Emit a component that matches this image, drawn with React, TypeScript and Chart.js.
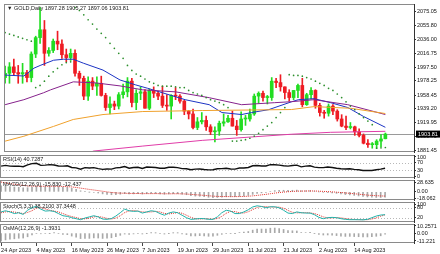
import React, { useEffect, useRef } from "react";
import { Chart, registerables } from "chart.js";

Chart.register(...registerables);

const FONT = "'Liberation Sans', 'DejaVu Sans', Arial, sans-serif";

const DATE_LABELS = ["24 Apr 2023", "4 May 2023", "16 May 2023", "26 May 2023", "7 Jun 2023", "19 Jun 2023", "29 Jun 2023", "11 Jul 2023", "21 Jul 2023", "2 Aug 2023", "14 Aug 2023"];
const DATE_TICK_BARS = [0, 8, 16, 24, 32, 40, 48, 56, 64, 72, 80];

const OPEN = [1983, 1989, 1998, 1990, 1988, 1990, 1983, 2016, 2039, 2050, 2017, 2021, 2034, 2030, 2015, 2011, 2017, 1989, 1982, 1957, 1978, 1971, 1975, 1958, 1941, 1946, 1943, 1959, 1963, 1978, 1948, 1961, 1963, 1940, 1965, 1961, 1957, 1944, 1943, 1958, 1957, 1950, 1936, 1932, 1913, 1921, 1923, 1914, 1907, 1908, 1919, 1921, 1926, 1915, 1910, 1925, 1925, 1932, 1957, 1961, 1955, 1955, 1978, 1976, 1970, 1962, 1955, 1965, 1972, 1945, 1959, 1965, 1944, 1934, 1933, 1943, 1936, 1925, 1915, 1913, 1914, 1907, 1902, 1891, 1889, 1889, 1894, 1897.28];
const HIGH = [1999, 2004, 2009, 2000, 2003, 1993, 2019, 2041, 2081, 2063, 2025, 2037, 2048, 2036, 2023, 2023, 2022, 1992, 1985, 1984, 1983, 1984, 1985, 1961, 1956, 1950, 1962, 1974, 1983, 1982, 1966, 1970, 1966, 1967, 1970, 1964, 1971, 1959, 1959, 1969, 1959, 1951, 1937, 1939, 1927, 1934, 1929, 1917, 1914, 1922, 1932, 1930, 1936, 1923, 1935, 1930, 1939, 1960, 1963, 1964, 1958, 1983, 1982, 1987, 1970, 1966, 1965, 1974, 1982, 1961, 1969, 1966, 1947, 1937, 1946, 1945, 1938, 1931, 1929, 1920, 1915, 1911, 1904, 1896, 1892, 1896, 1903, 1905.27];
const LOW = [1975, 1975, 1986, 1975, 1975, 1977, 1977, 2011, 2031, 2000, 2013, 2018, 2022, 2010, 2005, 2007, 1985, 1972, 1952, 1951, 1966, 1958, 1957, 1937, 1932, 1938, 1939, 1954, 1956, 1942, 1938, 1952, 1940, 1938, 1955, 1952, 1941, 1937, 1925, 1952, 1947, 1931, 1925, 1911, 1910, 1918, 1909, 1903, 1893, 1902, 1915, 1920, 1915, 1902, 1908, 1916, 1922, 1930, 1947, 1950, 1946, 1951, 1969, 1964, 1953, 1950, 1952, 1955, 1942, 1944, 1953, 1940, 1929, 1926, 1929, 1931, 1922, 1914, 1910, 1911, 1902, 1900, 1890, 1885, 1884, 1884, 1886, 1897.06];
const CLOSE = [1989, 1998, 1990, 1988, 1990, 1983, 2016, 2039, 2050, 2017, 2021, 2034, 2030, 2015, 2011, 2017, 1989, 1982, 1957, 1978, 1971, 1975, 1958, 1941, 1946, 1943, 1959, 1963, 1978, 1948, 1961, 1963, 1940, 1965, 1961, 1957, 1944, 1943, 1958, 1957, 1950, 1936, 1932, 1913, 1921, 1923, 1914, 1907, 1908, 1919, 1921, 1926, 1915, 1910, 1925, 1925, 1932, 1957, 1961, 1955, 1955, 1978, 1976, 1970, 1962, 1955, 1965, 1972, 1945, 1959, 1965, 1944, 1934, 1933, 1943, 1936, 1925, 1915, 1913, 1914, 1907, 1902, 1891, 1889, 1889, 1894, 1897, 1903.81];

const BLUE_MA_BARS = [0, 4.3, 6.6, 8.2, 11.1, 13.4, 15.6, 17.9, 22.4, 26.3, 29.9, 32.6, 36, 41.2, 46.7, 49.6, 54.1, 56.4, 60.3, 65.5, 67.1, 70.7, 74.5, 78.4, 82, 87];
const BLUE_MA = [1986.5, 1985.2, 1996.2, 2000.4, 2007.3, 2008.7, 2008.7, 2003.2, 1993.5, 1979.6, 1972.7, 1968, 1961.7, 1952, 1945, 1934, 1931.2, 1934, 1938, 1949, 1952, 1953.4, 1947.8, 1941, 1928.5, 1913.3];
const PURPLE_MA_BARS = [0, 4.3, 8.8, 10.4, 15.6, 20.8, 26.3, 31.5, 39, 46.7, 54.1, 61.6, 65.5, 70.7, 78.4, 87];
const PURPLE_MA = [1945, 1952, 1961.7, 1965.8, 1977, 1975.5, 1971.3, 1965.8, 1963, 1954.8, 1945, 1947.8, 1949.2, 1952, 1945, 1931.2];
const ORANGE_MA_BARS = [0, 4.3, 11.1, 15.6, 22.4, 31.5, 45.1, 65.5, 70.7, 79, 87];
const ORANGE_MA = [1893.9, 1900.8, 1914.6, 1924.3, 1931.2, 1935.4, 1936.8, 1938.2, 1942.3, 1940, 1932.6];
const PINK_MA_BARS = [19.7, 20.2, 31.5, 45.1, 65.5, 74.5, 87];
const PINK_MA = [1878.7, 1880, 1887, 1895, 1903.6, 1906.3, 1907.7];

const SAR = [2046, 2044, 2042, 2040, 2038, 2036, 2034, 1969, 1972, 1978, 1985, 1991, 1996, 2001, 2004, 2005, 2081, 2077, 2071, 2064, 2058, 2051, 2045, 2039, 2031, 2024, 2017, 2010, 2000, 1993, 1988, 1985, 1981, 1977, 1975, 1972, 1971, 1971, 1971, 1970, 1969, 1969, 1965, 1962, 1960, 1958, 1955, 1952, 1950, 1948, 1945, 1941, 1894, 1894, 1895, 1896, 1898, 1901, 1905, 1910, 1915, 1920, 1927, 1934, 1941, 1987, 1986, 1986, 1985, 1983, 1981, 1978, 1975, 1972, 1968, 1965, 1960, 1955, 1949, 1943, 1938, 1932, 1927, 1922, 1917, 1884, 1884.5, 1885];

const RSI = [52, 56, 52, 51, 52, 49, 59, 65, 67, 56, 57, 60, 58, 53, 52, 54, 45, 43, 36, 44, 42, 44, 39, 35, 37, 36, 43, 45, 50, 41, 45, 46, 40, 47, 46, 45, 41, 41, 46, 46, 44, 39, 38, 33, 36, 37, 34, 32, 33, 38, 39, 41, 37, 36, 42, 42, 45, 54, 55, 53, 53, 60, 59, 57, 54, 52, 55, 57, 48, 52, 54, 47, 44, 44, 47, 45, 41, 38, 37, 38, 35, 33, 29, 29, 29, 33, 36, 40.73];

const MACD_MAIN = [17.5, 16.5, 15.5, 14, 13, 11.5, 12, 14, 16, 15.5, 15.5, 16, 16.5, 15.5, 14, 13, 10, 7, 3, 1.5, -0.5, -1.5, -3.5, -6, -7.5, -8.5, -8, -7, -5.5, -6.5, -6, -5.5, -6.5, -5.5, -5, -5, -6, -7, -6, -5.5, -5.5, -7, -8.5, -11.5, -12.5, -13, -14.5, -16, -17, -16.5, -15.5, -14.5, -14.5, -14.5, -13, -12, -10.5, -7.5, -4.5, -3, -1.5, 1.5, 3.5, 4.5, 4.5, 4, 4.5, 5, 3, 3, 3.5, 2, 0, -1.5, -2, -3, -4.5, -6.5, -8, -9, -10.5, -12, -13.5, -15, -16, -16.5, -16.5, -15.83];
const MACD_SIGNAL = [28.6, 26.2, 24.1, 22.1, 20.3, 18.5, 17.2, 16.6, 16.6, 16.4, 16.2, 16.2, 16.3, 16.1, 15.7, 15.2, 14.2, 12.7, 10.8, 8.9, 7, 5.3, 3.5, 1.6, -0.2, -1.9, -3.1, -3.9, -4.2, -4.7, -4.9, -5, -5.3, -5.3, -5.3, -5.2, -5.4, -5.7, -5.8, -5.7, -5.7, -6, -6.5, -7.5, -8.5, -9.4, -10.4, -11.5, -12.6, -13.4, -13.8, -13.9, -14, -14.1, -13.9, -13.5, -12.9, -11.8, -10.4, -8.9, -7.4, -5.6, -3.8, -2.1, -0.8, 0.2, 1.1, 1.9, 2.1, 2.3, 2.5, 2.4, 1.9, 1.2, 0.6, -0.1, -1, -2.1, -3.3, -4.4, -5.6, -6.9, -8.2, -9.6, -10.6, -11.3, -12, -12.437];

const STOCH_MAIN = [55, 62, 55, 45, 50, 40, 65, 82, 88, 72, 60, 62, 58, 45, 32, 28, 20, 14, 8, 18, 25, 32, 25, 12, 10, 15, 30, 50, 72, 62, 58, 60, 48, 55, 62, 58, 45, 35, 48, 55, 50, 35, 20, 10, 12, 15, 14, 10, 10, 25, 50, 65, 60, 45, 45, 55, 68, 85, 92, 88, 80, 86, 86, 80, 65, 48, 45, 55, 50, 48, 48, 38, 22, 14, 20, 22, 20, 14, 10, 8, 8, 8, 7, 10, 20, 30, 36, 38.21];
const STOCH_SIGNAL = [50, 55, 57, 54, 50, 45, 52, 62, 78, 81, 73, 65, 60, 55, 45, 35, 27, 21, 14, 13, 17, 25, 27, 23, 16, 12, 18, 32, 51, 61, 64, 60, 55, 54, 55, 58, 55, 46, 43, 46, 51, 47, 35, 22, 14, 12, 14, 13, 11, 15, 28, 47, 58, 57, 50, 48, 56, 69, 82, 88, 87, 85, 84, 84, 77, 64, 53, 49, 50, 51, 49, 45, 36, 25, 19, 19, 21, 19, 15, 11, 9, 8, 8, 8, 12, 19, 29, 37.34];

const OSMA = [-11.1, -9.7, -8.6, -8.1, -7.3, -7, -5.2, -2.6, -0.6, -0.9, -0.7, -0.2, 0.2, -0.6, -1.7, -2.2, -4.2, -5.7, -7.8, -7.4, -7.5, -6.8, -7, -7.6, -7.3, -6.6, -4.9, -3.1, -1.3, -1.8, -1.1, -0.5, -1.2, -0.2, 0.3, 0.2, -0.6, -1.3, -0.2, 0.2, 0.2, -1, -2, -4, -4, -3.6, -4.1, -4.5, -4.4, -3.1, -1.7, -0.6, -0.5, -0.4, 0.9, 1.5, 2.4, 4.3, 5.9, 5.9, 5.9, 7.1, 7.3, 6.6, 5.3, 3.8, 3.4, 3.1, 0.9, 0.7, 1, -0.4, -1.9, -2.7, -2.6, -2.9, -3.5, -4.4, -4.7, -4.6, -4.9, -5.1, -5.3, -5.4, -5.1, -4.5, -3.8, -1.3931];

const PRICE_TICKS = [2075.05, 2055.8, 2036.0, 2016.75, 1997.5, 1978.25, 1958.45, 1939.2, 1919.95, 1900.7, 1881.45];
const PRICE_TICK_LABELS = ["2075.05", "2055.80", "2036.00", "2016.75", "1997.50", "1978.25", "1958.45", "1939.20", "1919.95", "1900.70", "1881.45"];
const LAST_PRICE = 1903.81;
const LAST_PRICE_LABEL = "1903.81";
const RSI_TICKS = [100, 70, 30, 0];
const RSI_TICK_LABELS = ["100", "70", "30", "0"];
const RSI_LEVELS = [70, 30];
const MACD_TICKS = [28.635, 0, -18.062];
const MACD_TICK_LABELS = ["28.635", "0.00", "-18.062"];
const STOCH_TICKS = [100, 80, 20];
const STOCH_TICK_LABELS = ["100", "80", "20"];
const STOCH_LEVELS = [80, 20];
const OSMA_TICKS = [10.2571, 0, -11.221];
const OSMA_TICK_LABELS = ["10.2571", "0.00", "-11.221"];

const TITLE_MAIN = "▼ GOLD,Daily 1897.28 1905.27 1897.06 1903.81";
const TITLE_RSI = "RSI(14) 40.7287";
const TITLE_MACD = "MACD(12,26,9) -15.830 -12.437";
const TITLE_STOCH = "Stoch(5,3,3) 38.2100 37.3448";
const TITLE_OSMA = "OsMA(12,26,9) -1.3931";

const UP = "#22dd22";
const DOWN = "#ee1c24";
const W = 440;
const H = 254;
const AXIS_W = 26;
const XMIN = -0.25;
const XMAX = 93.55;

const panePlugin = {
  id: "pane",
  beforeDatasetsDraw(chart: any, _a: any, o: any) {
    const { ctx, chartArea: a, scales } = chart;
    const y = scales.y;
    ctx.save();
    (o.levels || []).forEach((v: number) => {
      const py = Math.round(y.getPixelForValue(v)) + 0.5;
      ctx.strokeStyle = "#b8b8b8";
      ctx.lineWidth = 1;
      ctx.setLineDash([1, 2]);
      ctx.beginPath();
      ctx.moveTo(a.left, py);
      ctx.lineTo(a.right, py);
      ctx.stroke();
    });
    if (o.priceLine != null) {
      const py = Math.round(y.getPixelForValue(o.priceLine)) + 0.5;
      ctx.setLineDash([]);
      ctx.strokeStyle = "#9a9a9a";
      ctx.beginPath();
      ctx.moveTo(a.left, py);
      ctx.lineTo(a.right, py);
      ctx.stroke();
    }
    ctx.restore();
  },
  afterDraw(chart: any, _a: any, o: any) {
    const { ctx, chartArea: a, scales } = chart;
    const y = scales.y;
    ctx.save();
    ctx.strokeStyle = "#8a8a8a";
    ctx.lineWidth = 1;
    ctx.setLineDash([]);
    ctx.beginPath();
    ctx.moveTo(a.left, a.top + 0.5);
    ctx.lineTo(a.right, a.top + 0.5);
    ctx.moveTo(a.left, a.bottom - 0.5);
    ctx.lineTo(a.right, a.bottom - 0.5);
    ctx.moveTo(a.left + 0.5, a.top);
    ctx.lineTo(a.left + 0.5, a.bottom);
    ctx.stroke();
    if (o.title) {
      ctx.fillStyle = "#1a1a1a";
      ctx.font = "5.5px " + FONT;
      ctx.textBaseline = "middle";
      ctx.textAlign = "left";
      ctx.fillText(o.title, a.left + 3, a.top + 4);
    }
    if (o.priceBox != null) {
      const py = y.getPixelForValue(o.priceBox);
      ctx.fillStyle = "#000";
      ctx.fillRect(a.right + 2, py - 3.5, W - a.right - 2, 7);
      ctx.fillStyle = "#fff";
      ctx.font = "5.5px " + FONT;
      ctx.textBaseline = "middle";
      ctx.textAlign = "left";
      ctx.fillText(o.priceBoxLabel, a.right + 4, py);
    }
    ctx.restore();
  },
};

function xScale(show: boolean, axisH: number) {
  return {
    type: "linear",
    min: XMIN,
    max: XMAX,
    offset: false,
    display: show,
    afterBuildTicks: (s: any) => {
      s.ticks = DATE_TICK_BARS.map((v) => ({ value: v }));
    },
    afterFit: (s: any) => {
      if (show) s.height = axisH;
      s.paddingLeft = 0;
      s.paddingRight = 0;
    },
    ticks: {
      autoSkip: false,
      maxRotation: 0,
      minRotation: 0,
      align: "start",
      padding: 1,
      color: "#111",
      font: { size: 5.5, family: FONT },
      callback: (_v: any, i: number) => DATE_LABELS[i],
    },
    grid: { drawOnChartArea: false, drawTicks: true, tickLength: 3, color: "#444", offset: false },
    border: { display: false },
  };
}

function yScale(min: number, max: number, vals: number[], labels: string[]) {
  return {
    type: "linear",
    position: "right",
    min,
    max,
    afterBuildTicks: (s: any) => {
      s.ticks = vals.map((v) => ({ value: v }));
    },
    afterFit: (s: any) => {
      s.width = AXIS_W;
      s.paddingTop = 0;
      s.paddingBottom = 0;
    },
    ticks: {
      autoSkip: false,
      padding: 1,
      color: "#111",
      font: { size: 5.5, family: FONT },
      callback: (_v: any, i: number) => labels[i],
    },
    grid: { drawOnChartArea: false, drawTicks: true, tickLength: 2, color: "#333" },
    border: { display: true, color: "#333", width: 1 },
  };
}

type Pane = {
  top: number;
  bottom: number;
  yMin: number;
  yMax: number;
  ticks: number[];
  labels: string[];
  datasets: any[];
  deco: any;
  showX?: boolean;
};

const MARGIN = 3;

function buildPane(canvas: HTMLCanvasElement, p: Pane) {
  const canvasTop = p.top - MARGIN;
  const axisH = H - p.bottom;
  const height = p.showX ? H - canvasTop : p.bottom - p.top + 2 * MARGIN;
  canvas.width = W;
  canvas.height = height;
  canvas.style.top = canvasTop + "px";
  canvas.style.height = height + "px";
  return new Chart(canvas, {
    type: "bar",
    data: { datasets: p.datasets },
    options: {
      responsive: false,
      animation: false,
      devicePixelRatio: 1,
      layout: { padding: { top: MARGIN, bottom: p.showX ? 0 : MARGIN, left: 0, right: 0 } },
      scales: {
        x: xScale(!!p.showX, axisH),
        y: yScale(p.yMin, p.yMax, p.ticks, p.labels),
      },
      plugins: {
        legend: { display: false },
        tooltip: { enabled: false },
        pane: p.deco,
      },
    } as any,
    plugins: [panePlugin],
  });
}

const idx = OPEN.map((_, i) => i);

function line(xs: number[], ys: number[], color: string, dash?: number[], width = 1, order = 1) {
  return {
    type: "line",
    data: xs.map((x, i) => ({ x, y: ys[i] })),
    borderColor: color,
    borderWidth: width,
    borderDash: dash || [],
    pointRadius: 0,
    tension: 0,
    order,
  };
}

export default function App() {
  const refs = [useRef<HTMLCanvasElement>(null), useRef<HTMLCanvasElement>(null), useRef<HTMLCanvasElement>(null), useRef<HTMLCanvasElement>(null), useRef<HTMLCanvasElement>(null)];

  useEffect(() => {
    const candleColors = idx.map((i) => (CLOSE[i] >= OPEN[i] ? UP : DOWN));
    const panes: Pane[] = [
      {
        top: 3,
        bottom: 153,
        yMin: 1878.7,
        yMax: 2086.1,
        ticks: PRICE_TICKS,
        labels: PRICE_TICK_LABELS,
        deco: { title: TITLE_MAIN, priceLine: LAST_PRICE, priceBox: LAST_PRICE, priceBoxLabel: LAST_PRICE_LABEL },
        datasets: [
          {
            type: "bar",
            data: idx.map((i) => ({ x: i, y: [LOW[i], HIGH[i]] })),
            backgroundColor: candleColors,
            barThickness: 1,
            grouped: false,
            order: 10,
          },
          {
            type: "bar",
            data: idx.map((i) => ({ x: i, y: [Math.min(OPEN[i], CLOSE[i]), Math.max(OPEN[i], CLOSE[i])] })),
            backgroundColor: candleColors,
            barThickness: 3,
            minBarLength: 1,
            grouped: false,
            order: 9,
          },
          line(PINK_MA_BARS, PINK_MA, "#e03ca8"),
          line(ORANGE_MA_BARS, ORANGE_MA, "#f0a12c"),
          line(PURPLE_MA_BARS, PURPLE_MA, "#86228c"),
          line(BLUE_MA_BARS, BLUE_MA, "#1c34c4"),
          {
            type: "scatter",
            data: idx.map((i) => ({ x: i, y: SAR[i] })),
            backgroundColor: "#2c8f2c",
            borderWidth: 0,
            pointRadius: 0.85,
            order: 0,
          },
        ],
      },
      {
        top: 155,
        bottom: 178,
        yMin: -10.5,
        yMax: 110.5,
        ticks: RSI_TICKS,
        labels: RSI_TICK_LABELS,
        deco: { title: TITLE_RSI, levels: RSI_LEVELS },
        datasets: [line(idx, RSI, "#111", [], 1.4)],
      },
      {
        top: 180,
        bottom: 200,
        yMin: -23.9,
        yMax: 34.5,
        ticks: MACD_TICKS,
        labels: MACD_TICK_LABELS,
        deco: { title: TITLE_MACD },
        datasets: [
          {
            type: "bar",
            data: idx.map((i) => ({ x: i, y: MACD_MAIN[i] })),
            backgroundColor: "#a9a9a9",
            barThickness: 1,
            grouped: false,
            order: 5,
          },
          line(idx, MACD_SIGNAL, "#e0302a", [1, 1]),
        ],
      },
      {
        top: 202,
        bottom: 222,
        yMin: -6,
        yMax: 115,
        ticks: STOCH_TICKS,
        labels: STOCH_TICK_LABELS,
        deco: { title: TITLE_STOCH, levels: STOCH_LEVELS },
        datasets: [line(idx, STOCH_MAIN, "#20b2aa"), line(idx, STOCH_SIGNAL, "#e0302a", [1, 1])],
      },
      {
        top: 224,
        bottom: 243,
        yMin: -14.1,
        yMax: 13.1,
        ticks: OSMA_TICKS,
        labels: OSMA_TICK_LABELS,
        deco: { title: TITLE_OSMA },
        showX: true,
        datasets: [
          {
            type: "bar",
            data: idx.map((i) => ({ x: i, y: OSMA[i] })),
            backgroundColor: "#a9a9a9",
            barThickness: 1,
            grouped: false,
          },
        ],
      },
    ];
    const charts = panes.map((p, i) => buildPane(refs[i].current as HTMLCanvasElement, p));
    return () => charts.forEach((c) => c.destroy());
  }, []);

  return (
    <div style={{ position: "fixed", left: 0, top: 0, width: W, height: H, background: "#fff", overflow: "hidden" }}>
      {refs.map((r, i) => (
        <canvas key={i} ref={r} style={{ position: "absolute", left: 0, width: W }} />
      ))}
    </div>
  );
}
